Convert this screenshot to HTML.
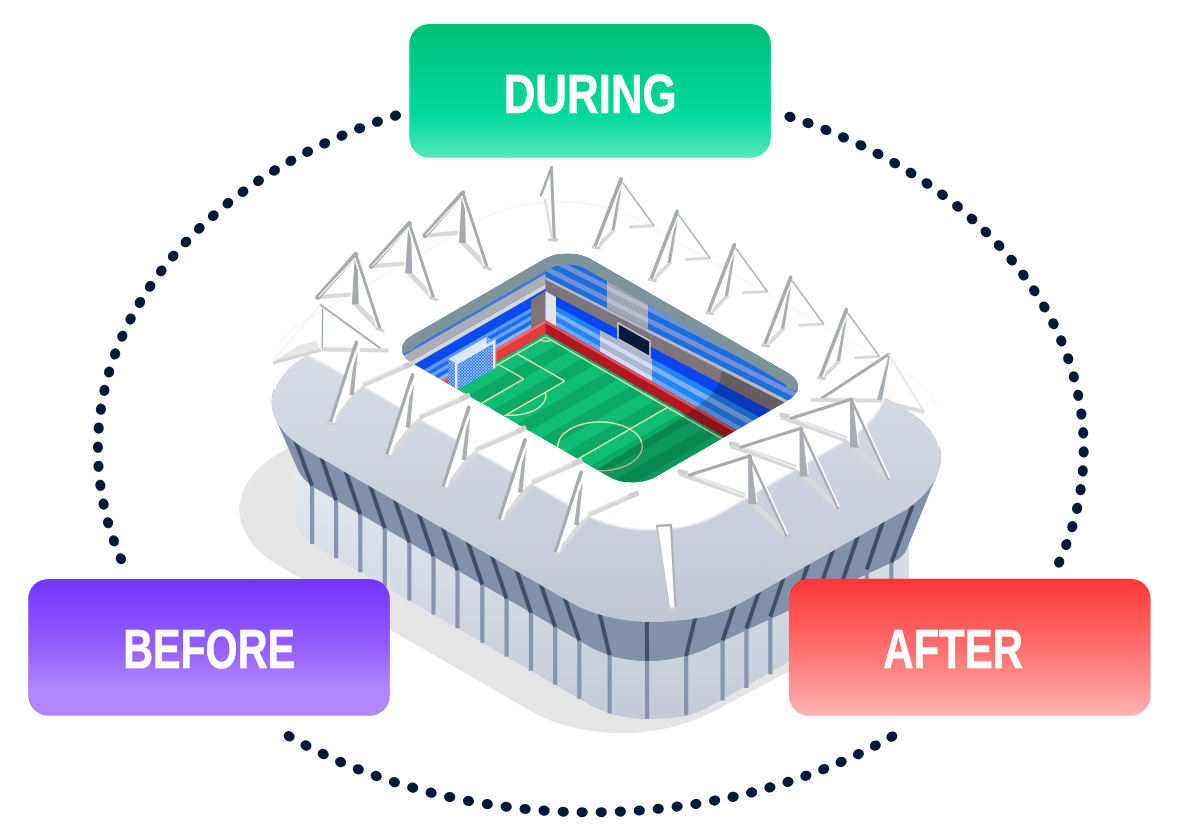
<!DOCTYPE html>
<html><head><meta charset="utf-8"><style>
html,body{margin:0;padding:0;background:#fff;width:1180px;height:840px;overflow:hidden}
svg{display:block}
text{font-family:"Liberation Sans",sans-serif;font-weight:bold;fill:#fff;stroke:#fff;stroke-width:0.7px}
</style></head><body>
<svg width="1180" height="840" viewBox="0 0 1180 840">
<defs>
<linearGradient id="gD" x1="0" y1="0" x2="0" y2="1">
<stop offset="0" stop-color="#00bf78"/><stop offset="0.68" stop-color="#00d99c"/><stop offset="1" stop-color="#55e8b8"/></linearGradient>
<linearGradient id="gB" x1="0" y1="0" x2="0" y2="1">
<stop offset="0" stop-color="#7233ff"/><stop offset="0.5" stop-color="#955fff"/><stop offset="0.8" stop-color="#b087ff"/><stop offset="1" stop-color="#b088ff"/></linearGradient>
<linearGradient id="gA" x1="0" y1="0" x2="0" y2="1">
<stop offset="0" stop-color="#ff3636"/><stop offset="0.5" stop-color="#ff6e6e"/><stop offset="1" stop-color="#ffb2b2"/></linearGradient>
</defs>
<g fill="#03193b"><ellipse cx="1083.7" cy="451.9" rx="5.6" ry="5.05" transform="rotate(90.6 1083.7 451.9)"/><ellipse cx="1082.8" cy="470.9" rx="5.6" ry="5.05" transform="rotate(94.7 1082.8 470.9)"/><ellipse cx="1080.6" cy="489.7" rx="5.6" ry="5.05" transform="rotate(98.7 1080.6 489.7)"/><ellipse cx="1077.1" cy="508.3" rx="5.6" ry="5.05" transform="rotate(102.6 1077.1 508.3)"/><ellipse cx="1072.3" cy="526.6" rx="5.6" ry="5.05" transform="rotate(106.5 1072.3 526.6)"/><ellipse cx="1066.3" cy="544.6" rx="5.6" ry="5.05" transform="rotate(110.3 1066.3 544.6)"/><ellipse cx="1059.2" cy="562.1" rx="5.6" ry="5.05" transform="rotate(114.0 1059.2 562.1)"/><ellipse cx="891.9" cy="736.6" rx="5.6" ry="5.05" transform="rotate(150.4 891.9 736.6)"/><ellipse cx="875.3" cy="745.6" rx="5.6" ry="5.05" transform="rotate(152.5 875.3 745.6)"/><ellipse cx="858.4" cy="754.1" rx="5.6" ry="5.05" transform="rotate(154.5 858.4 754.1)"/><ellipse cx="841.1" cy="761.9" rx="5.6" ry="5.05" transform="rotate(156.5 841.1 761.9)"/><ellipse cx="823.7" cy="769.1" rx="5.6" ry="5.05" transform="rotate(158.4 823.7 769.1)"/><ellipse cx="805.9" cy="775.8" rx="5.6" ry="5.05" transform="rotate(160.3 805.9 775.8)"/><ellipse cx="788.0" cy="781.9" rx="5.6" ry="5.05" transform="rotate(162.2 788.0 781.9)"/><ellipse cx="769.9" cy="787.4" rx="5.6" ry="5.05" transform="rotate(164.0 769.9 787.4)"/><ellipse cx="751.6" cy="792.4" rx="5.6" ry="5.05" transform="rotate(165.7 751.6 792.4)"/><ellipse cx="733.1" cy="796.8" rx="5.6" ry="5.05" transform="rotate(167.5 733.1 796.8)"/><ellipse cx="714.6" cy="800.6" rx="5.6" ry="5.05" transform="rotate(169.2 714.6 800.6)"/><ellipse cx="695.9" cy="803.9" rx="5.6" ry="5.05" transform="rotate(170.9 695.9 803.9)"/><ellipse cx="677.1" cy="806.6" rx="5.6" ry="5.05" transform="rotate(172.5 677.1 806.6)"/><ellipse cx="658.2" cy="808.8" rx="5.6" ry="5.05" transform="rotate(174.2 658.2 808.8)"/><ellipse cx="639.3" cy="810.5" rx="5.6" ry="5.05" transform="rotate(175.8 639.3 810.5)"/><ellipse cx="620.3" cy="811.6" rx="5.6" ry="5.05" transform="rotate(177.5 620.3 811.6)"/><ellipse cx="601.2" cy="812.2" rx="5.6" ry="5.05" transform="rotate(179.1 601.2 812.2)"/><ellipse cx="582.2" cy="812.2" rx="5.6" ry="5.05" transform="rotate(-179.3 582.2 812.2)"/><ellipse cx="563.2" cy="811.7" rx="5.6" ry="5.05" transform="rotate(-177.6 563.2 811.7)"/><ellipse cx="544.1" cy="810.6" rx="5.6" ry="5.05" transform="rotate(-176.0 544.1 810.6)"/><ellipse cx="525.1" cy="809.0" rx="5.6" ry="5.05" transform="rotate(-174.3 525.1 809.0)"/><ellipse cx="506.2" cy="806.8" rx="5.6" ry="5.05" transform="rotate(-172.7 506.2 806.8)"/><ellipse cx="487.3" cy="804.1" rx="5.6" ry="5.05" transform="rotate(-171.0 487.3 804.1)"/><ellipse cx="468.5" cy="800.9" rx="5.6" ry="5.05" transform="rotate(-169.3 468.5 800.9)"/><ellipse cx="449.7" cy="797.0" rx="5.6" ry="5.05" transform="rotate(-167.6 449.7 797.0)"/><ellipse cx="431.1" cy="792.7" rx="5.6" ry="5.05" transform="rotate(-165.8 431.1 792.7)"/><ellipse cx="412.7" cy="787.7" rx="5.6" ry="5.05" transform="rotate(-164.1 412.7 787.7)"/><ellipse cx="394.4" cy="782.1" rx="5.6" ry="5.05" transform="rotate(-162.2 394.4 782.1)"/><ellipse cx="376.2" cy="776.0" rx="5.6" ry="5.05" transform="rotate(-160.4 376.2 776.0)"/><ellipse cx="358.3" cy="769.3" rx="5.6" ry="5.05" transform="rotate(-158.5 358.3 769.3)"/><ellipse cx="340.6" cy="762.0" rx="5.6" ry="5.05" transform="rotate(-156.5 340.6 762.0)"/><ellipse cx="323.2" cy="754.0" rx="5.6" ry="5.05" transform="rotate(-154.5 323.2 754.0)"/><ellipse cx="306.0" cy="745.5" rx="5.6" ry="5.05" transform="rotate(-152.5 306.0 745.5)"/><ellipse cx="289.2" cy="736.3" rx="5.6" ry="5.05" transform="rotate(-150.3 289.2 736.3)"/><ellipse cx="120.9" cy="558.7" rx="5.6" ry="5.05" transform="rotate(-113.3 120.9 558.7)"/><ellipse cx="113.9" cy="540.9" rx="5.6" ry="5.05" transform="rotate(-109.5 113.9 540.9)"/><ellipse cx="108.1" cy="522.7" rx="5.6" ry="5.05" transform="rotate(-105.7 108.1 522.7)"/><ellipse cx="103.6" cy="504.1" rx="5.6" ry="5.05" transform="rotate(-101.8 103.6 504.1)"/><ellipse cx="100.4" cy="485.3" rx="5.6" ry="5.05" transform="rotate(-97.7 100.4 485.3)"/><ellipse cx="98.5" cy="466.3" rx="5.6" ry="5.05" transform="rotate(-93.7 98.5 466.3)"/><ellipse cx="97.9" cy="447.2" rx="5.6" ry="5.05" transform="rotate(-89.6 97.9 447.2)"/><ellipse cx="98.7" cy="428.1" rx="5.6" ry="5.05" transform="rotate(-85.5 98.7 428.1)"/><ellipse cx="100.9" cy="409.2" rx="5.6" ry="5.05" transform="rotate(-81.5 100.9 409.2)"/><ellipse cx="104.4" cy="390.4" rx="5.6" ry="5.05" transform="rotate(-77.5 104.4 390.4)"/><ellipse cx="109.1" cy="372.0" rx="5.6" ry="5.05" transform="rotate(-73.6 109.1 372.0)"/><ellipse cx="115.1" cy="353.9" rx="5.6" ry="5.05" transform="rotate(-69.8 115.1 353.9)"/><ellipse cx="122.3" cy="336.2" rx="5.6" ry="5.05" transform="rotate(-66.1 122.3 336.2)"/><ellipse cx="130.6" cy="319.0" rx="5.6" ry="5.05" transform="rotate(-62.5 130.6 319.0)"/><ellipse cx="139.9" cy="302.4" rx="5.6" ry="5.05" transform="rotate(-59.1 139.9 302.4)"/><ellipse cx="150.1" cy="286.4" rx="5.6" ry="5.05" transform="rotate(-55.8 150.1 286.4)"/><ellipse cx="161.3" cy="270.9" rx="5.6" ry="5.05" transform="rotate(-52.6 161.3 270.9)"/><ellipse cx="173.2" cy="256.1" rx="5.6" ry="5.05" transform="rotate(-49.6 173.2 256.1)"/><ellipse cx="185.9" cy="242.0" rx="5.6" ry="5.05" transform="rotate(-46.7 185.9 242.0)"/><ellipse cx="199.3" cy="228.4" rx="5.6" ry="5.05" transform="rotate(-43.9 199.3 228.4)"/><ellipse cx="213.3" cy="215.6" rx="5.6" ry="5.05" transform="rotate(-41.3 213.3 215.6)"/><ellipse cx="227.9" cy="203.3" rx="5.6" ry="5.05" transform="rotate(-38.7 227.9 203.3)"/><ellipse cx="243.0" cy="191.8" rx="5.6" ry="5.05" transform="rotate(-36.3 243.0 191.8)"/><ellipse cx="258.5" cy="180.8" rx="5.6" ry="5.05" transform="rotate(-33.9 258.5 180.8)"/><ellipse cx="274.5" cy="170.5" rx="5.6" ry="5.05" transform="rotate(-31.7 274.5 170.5)"/><ellipse cx="290.9" cy="160.9" rx="5.6" ry="5.05" transform="rotate(-29.5 290.9 160.9)"/><ellipse cx="307.6" cy="151.8" rx="5.6" ry="5.05" transform="rotate(-27.3 307.6 151.8)"/><ellipse cx="324.7" cy="143.4" rx="5.6" ry="5.05" transform="rotate(-25.3 324.7 143.4)"/><ellipse cx="342.0" cy="135.6" rx="5.6" ry="5.05" transform="rotate(-23.3 342.0 135.6)"/><ellipse cx="359.6" cy="128.3" rx="5.6" ry="5.05" transform="rotate(-21.4 359.6 128.3)"/><ellipse cx="377.4" cy="121.7" rx="5.6" ry="5.05" transform="rotate(-19.5 377.4 121.7)"/><ellipse cx="395.5" cy="115.6" rx="5.6" ry="5.05" transform="rotate(-17.6 395.5 115.6)"/><ellipse cx="790.0" cy="116.9" rx="5.6" ry="5.05" transform="rotate(18.0 790.0 116.9)"/><ellipse cx="808.0" cy="123.1" rx="5.6" ry="5.05" transform="rotate(19.9 808.0 123.1)"/><ellipse cx="825.9" cy="129.9" rx="5.6" ry="5.05" transform="rotate(21.8 825.9 129.9)"/><ellipse cx="843.5" cy="137.3" rx="5.6" ry="5.05" transform="rotate(23.8 843.5 137.3)"/><ellipse cx="860.9" cy="145.3" rx="5.6" ry="5.05" transform="rotate(25.8 860.9 145.3)"/><ellipse cx="878.0" cy="153.9" rx="5.6" ry="5.05" transform="rotate(27.8 878.0 153.9)"/><ellipse cx="894.7" cy="163.1" rx="5.6" ry="5.05" transform="rotate(30.0 894.7 163.1)"/><ellipse cx="911.0" cy="173.0" rx="5.6" ry="5.05" transform="rotate(32.2 911.0 173.0)"/><ellipse cx="927.0" cy="183.5" rx="5.6" ry="5.05" transform="rotate(34.5 927.0 183.5)"/><ellipse cx="942.5" cy="194.7" rx="5.6" ry="5.05" transform="rotate(36.9 942.5 194.7)"/><ellipse cx="957.5" cy="206.4" rx="5.6" ry="5.05" transform="rotate(39.4 957.5 206.4)"/><ellipse cx="972.0" cy="218.9" rx="5.6" ry="5.05" transform="rotate(42.0 972.0 218.9)"/><ellipse cx="985.9" cy="232.0" rx="5.6" ry="5.05" transform="rotate(44.7 985.9 232.0)"/><ellipse cx="999.1" cy="245.7" rx="5.6" ry="5.05" transform="rotate(47.5 999.1 245.7)"/><ellipse cx="1011.7" cy="260.1" rx="5.6" ry="5.05" transform="rotate(50.4 1011.7 260.1)"/><ellipse cx="1023.4" cy="275.1" rx="5.6" ry="5.05" transform="rotate(53.5 1023.4 275.1)"/><ellipse cx="1034.3" cy="290.7" rx="5.6" ry="5.05" transform="rotate(56.7 1034.3 290.7)"/><ellipse cx="1044.3" cy="306.9" rx="5.6" ry="5.05" transform="rotate(60.0 1044.3 306.9)"/><ellipse cx="1053.4" cy="323.7" rx="5.6" ry="5.05" transform="rotate(63.5 1053.4 323.7)"/><ellipse cx="1061.3" cy="340.9" rx="5.6" ry="5.05" transform="rotate(67.1 1061.3 340.9)"/><ellipse cx="1068.2" cy="358.7" rx="5.6" ry="5.05" transform="rotate(70.8 1068.2 358.7)"/><ellipse cx="1073.8" cy="376.8" rx="5.6" ry="5.05" transform="rotate(74.6 1073.8 376.8)"/><ellipse cx="1078.2" cy="395.3" rx="5.6" ry="5.05" transform="rotate(78.5 1078.2 395.3)"/><ellipse cx="1081.4" cy="414.0" rx="5.6" ry="5.05" transform="rotate(82.5 1081.4 414.0)"/><ellipse cx="1083.2" cy="432.9" rx="5.6" ry="5.05" transform="rotate(86.5 1083.2 432.9)"/></g>
<defs><linearGradient id="gCol" gradientUnits="userSpaceOnUse" x1="0" y1="460" x2="0" y2="725">
<stop offset="0" stop-color="#e6e9ef"/><stop offset="0.45" stop-color="#d6dbe4"/><stop offset="1" stop-color="#c2c9d6"/></linearGradient>
<linearGradient id="gRoof" gradientUnits="userSpaceOnUse" x1="0" y1="340" x2="0" y2="630">
<stop offset="0" stop-color="#d9dee6"/><stop offset="1" stop-color="#c0c7d4"/></linearGradient>
<filter id="blur2" x="-5%" y="-5%" width="110%" height="110%"><feGaussianBlur stdDeviation="1.2"/></filter>
<clipPath id="cRoof"><path d="M735.4,606.1 L732.1,607.7 L728.7,609.2 L725.1,610.7 L721.5,612.0 L717.7,613.3 L713.9,614.4 L709.9,615.5 L705.9,616.5 L701.8,617.4 L697.6,618.1 L693.4,618.8 L689.1,619.4 L684.7,619.9 L680.3,620.2 L675.8,620.8 L671.3,621.2 L666.8,621.6 L662.2,621.9 L657.7,622.0 L653.1,622.1 L648.5,622.0 L644.0,621.9 L639.4,621.6 L634.9,621.2 L630.4,620.8 L625.9,620.2 L621.5,619.6 L617.1,618.8 L612.8,617.9 L608.6,617.0 L604.4,615.9 L600.3,614.8 L596.2,613.5 L592.3,612.2 L588.5,610.8 L584.7,609.2 L581.1,607.7 L577.5,606.0 L574.1,604.2 L570.8,602.4 L305.8,449.4 L302.7,447.5 L299.6,445.5 L296.7,443.5 L294.0,441.4 L291.4,439.2 L288.9,437.0 L286.6,434.7 L284.4,432.4 L282.4,430.0 L280.6,427.6 L278.9,425.2 L277.5,422.7 L276.1,420.1 L275.0,417.6 L274.0,415.0 L273.2,412.4 L272.6,409.8 L272.1,407.2 L271.8,404.5 L271.8,401.9 L271.8,399.3 L272.1,396.6 L272.6,394.0 L273.2,391.4 L274.0,388.8 L275.0,386.2 L276.1,383.7 L277.5,381.1 L278.9,378.6 L280.6,376.2 L282.4,373.8 L284.4,371.4 L286.6,369.1 L288.9,366.8 L291.4,364.6 L294.0,362.4 L296.7,360.3 L299.6,358.3 L302.7,356.3 L305.8,354.4 L477.3,255.4 L480.6,253.6 L484.0,251.8 L487.5,250.1 L491.2,248.6 L494.9,247.0 L498.8,245.6 L502.7,244.3 L506.8,243.0 L510.9,241.9 L515.0,240.8 L519.3,239.9 L523.6,239.0 L528.0,238.2 L532.4,237.6 L536.9,237.0 L541.4,236.6 L545.9,236.2 L550.4,235.9 L555.0,235.8 L559.6,235.7 L564.1,235.8 L568.7,235.9 L573.2,236.2 L577.8,236.6 L582.3,237.0 L586.7,237.6 L591.2,238.2 L595.5,239.0 L599.8,239.9 L604.1,240.8 L608.3,241.9 L612.4,243.0 L616.4,244.3 L620.4,245.6 L624.2,247.0 L628.0,248.6 L631.6,250.1 L635.1,251.8 L638.5,253.6 L641.8,255.4 L906.8,408.4 L910.0,410.3 L913.0,412.3 L915.9,414.3 L918.7,416.4 L921.3,418.6 L923.8,420.8 L926.1,423.1 L928.2,425.4 L930.2,427.8 L932.1,430.2 L933.7,432.6 L935.2,435.1 L936.5,437.7 L937.7,441.6 L938.7,443.9 L939.5,446.4 L940.1,448.8 L940.6,451.4 L940.8,453.9 L940.9,456.6 L940.8,459.2 L940.6,461.9 L940.1,464.6 L939.5,467.4 L938.7,470.1 L937.7,472.9 L936.5,475.7 L935.2,478.5 L933.7,481.4 L932.1,484.2 L930.2,487.0 L928.2,489.6 L926.1,492.2 L923.8,494.8 L921.3,497.3 L918.7,499.8 L915.9,502.2 L913.0,504.6 L910.0,507.0 L906.8,509.3Z"/></clipPath><clipPath id="cHole"><path d="M655.9,476.8 L654.0,477.8 L651.9,478.7 L649.8,479.5 L647.5,480.3 L645.1,480.9 L642.7,481.4 L640.2,481.8 L637.6,482.1 L635.1,482.3 L632.5,482.3 L629.9,482.3 L627.3,482.1 L624.8,481.8 L622.3,481.4 L619.8,480.9 L617.5,480.3 L615.2,479.5 L613.0,478.7 L611.0,477.8 L609.1,476.8 L411.6,362.8 L409.9,361.6 L408.3,360.5 L406.8,359.2 L405.6,357.9 L404.5,356.6 L403.6,355.1 L402.9,353.7 L402.4,352.2 L402.1,350.7 L402.0,349.2 L402.1,347.8 L402.4,346.3 L402.9,344.8 L403.6,343.4 L404.5,341.9 L405.6,340.6 L406.8,339.3 L408.3,338.0 L409.9,336.9 L411.6,335.8 L544.1,259.2 L546.0,258.2 L548.1,257.3 L550.2,256.5 L552.5,255.7 L554.9,255.1 L557.3,254.6 L559.8,254.2 L562.4,253.9 L564.9,253.7 L567.5,253.7 L570.1,253.7 L572.7,253.9 L575.2,254.2 L577.7,254.6 L580.2,255.1 L582.5,255.7 L584.8,256.5 L587.0,257.3 L589.0,258.2 L590.9,259.2 L788.4,373.2 L790.1,374.4 L791.7,375.5 L793.2,376.8 L794.4,378.1 L795.5,379.4 L796.4,380.9 L797.1,382.3 L797.6,383.8 L797.9,385.3 L798.0,386.8 L797.9,388.2 L797.6,389.7 L797.1,391.2 L796.4,392.6 L795.5,394.1 L794.4,395.4 L793.2,396.7 L791.7,398.0 L790.1,399.1 L788.4,400.2Z"/></clipPath><pattern id="net" width="3" height="3" patternUnits="userSpaceOnUse"><rect width="3" height="3" fill="#2f7ff0"/><path d="M0,3L3,0M0,0L3,3" stroke="#bcd6fb" stroke-width="0.6"/></pattern><clipPath id="cR"><rect x="545.5" y="200" width="300" height="300"/></clipPath><clipPath id="cL"><rect x="380" y="200" width="165.5" height="300"/></clipPath></defs><path d="M711.7,712.6 L704.4,715.9 L696.5,719.0 L688.2,722.3 L679.5,725.1 L670.4,727.5 L661.0,729.5 L651.4,731.1 L641.6,732.2 L631.7,732.9 L621.7,733.1 L611.7,732.9 L601.8,732.2 L591.9,731.1 L582.3,729.5 L572.9,727.5 L563.9,725.1 L555.1,722.3 L546.8,719.0 L539.0,715.5 L531.6,711.6 L280.2,566.4 L272.8,561.8 L266.0,556.8 L259.9,551.5 L254.5,546.0 L250.0,540.2 L246.2,534.3 L243.2,528.2 L241.0,522.0 L239.8,515.7 L239.3,509.4 L239.8,503.1 L241.0,496.8 L243.2,490.6 L246.2,484.5 L250.0,478.6 L254.5,472.8 L259.9,467.3 L266.0,462.0 L272.8,457.0 L280.2,452.4 L427.8,367.2 L432.4,364.7 L437.4,362.4 L442.7,360.4 L448.2,358.6 L454.0,357.1 L460.0,355.8 L466.1,354.8 L472.3,354.1 L478.6,353.7 L484.9,353.5 L491.3,353.7 L497.6,354.1 L503.8,354.8 L509.9,355.8 L515.9,357.1 L521.6,358.6 L527.2,360.4 L532.5,362.4 L537.4,364.7 L542.1,367.2 L868.0,555.4 L872.3,558.0 L876.2,560.9 L879.7,564.0 L882.8,567.2 L885.5,570.5 L887.7,573.9 L889.4,577.5 L890.7,581.0 L891.4,584.7 L891.6,588.4 L891.4,592.0 L890.7,595.7 L889.4,599.2 L887.7,610.8 L885.5,614.2 L882.8,617.5 L879.7,620.7 L876.2,623.8 L872.3,626.7 L868.0,629.4Z" fill="#e5e5e5"/>
<path d="M294.7,457.1 L295.0,453.4 L295.7,449.8 L297.0,446.2 L298.7,442.6 L300.9,439.2 L303.5,435.9 L306.6,432.7 L310.2,429.6 L314.1,426.7 L318.4,424.1 L498.5,320.1 L503.2,317.6 L508.2,315.3 L513.5,313.3 L519.0,311.5 L524.8,309.9 L530.7,308.7 L536.8,307.7 L543.0,307.0 L549.4,306.5 L555.7,306.4 L562.0,306.5 L568.3,307.0 L574.6,307.7 L580.7,308.7 L586.6,309.9 L592.4,311.5 L597.9,313.3 L603.2,315.3 L608.2,317.6 L612.9,320.1 L885.3,498.6 L889.6,502.7 L893.5,506.9 L897.1,511.1 L900.2,515.3 L902.8,519.5 L905.0,523.6 L906.7,527.7 L908.0,531.7 L908.7,535.6 L909.0,539.4 L909.0,574.9 L908.7,578.5 L908.0,582.1 L906.7,585.7 L905.0,589.3 L902.8,592.7 L900.2,596.0 L897.1,599.2 L893.5,602.3 L889.6,605.2 L885.3,607.9 L705.2,709.0 L700.5,711.1 L695.5,713.0 L690.2,714.6 L684.7,715.9 L678.9,717.0 L673.0,717.8 L666.9,718.3 L654.4,718.9 L648.0,719.0 L641.7,718.9 L635.4,718.4 L629.1,717.7 L623.0,716.7 L617.1,715.5 L611.3,713.9 L605.8,712.1 L600.5,710.1 L595.5,707.8 L590.9,705.4 L318.4,548.0 L314.1,545.4 L310.2,542.5 L306.6,539.4 L303.5,536.2 L300.9,532.9 L298.7,529.5 L297.0,525.9 L295.7,522.4 L295.0,518.7 L294.7,515.0Z" fill="url(#gCol)"/>
<path d="M312.1,485.9L312.1,543.9M336.1,500.3L336.1,558.3M360.3,514.3L360.3,572.3M384.8,528.4L384.8,586.4M409.4,542.6L409.4,600.6M433.5,556.5L433.5,614.5M457.5,570.3L457.5,628.3M482.3,584.7L482.3,642.7M506.6,598.7L506.6,656.7M531.0,612.8L531.0,670.8M555.2,626.8L555.2,684.8M579.3,640.7L579.3,698.7M609.7,655.4L609.7,713.4M647.1,661.0L647.1,719.0M686.1,656.0L686.1,715.6M722.6,640.5L722.6,700.4M746.4,628.6L746.4,688.0M770.3,616.7L770.3,674.3M794.5,604.5L794.5,660.3M818.5,592.5L818.5,646.4M842.7,580.4L842.7,632.4M866.8,569.3L866.8,618.5M891.4,562.6L891.4,603.9" stroke="#8595b0" stroke-width="4.2" fill="none"/>
<path d="M271.8,401.9 L271.9,399.3 L272.1,396.6 L272.6,394.0 L273.2,391.4 L274.0,388.8 L275.0,386.2 L276.1,383.7 L277.4,381.1 L278.9,378.6 L280.6,376.2 L282.4,373.8 L284.4,371.4 L286.6,369.1 L288.9,366.8 L291.4,364.6 L294.0,362.4 L296.7,360.3 L299.6,358.3 L302.7,356.3 L305.8,354.4 L477.3,255.4 L480.6,253.6 L484.0,251.8 L487.5,250.2 L491.2,248.6 L494.9,247.1 L498.8,245.6 L502.7,244.3 L506.8,243.1 L510.9,241.9 L515.0,240.8 L519.3,239.9 L523.6,239.0 L528.0,238.2 L532.4,237.6 L536.9,237.0 L541.4,236.6 L545.9,236.2 L550.4,235.9 L555.0,235.8 L559.6,235.7 L564.1,235.8 L568.7,235.9 L573.2,236.2 L577.8,236.6 L582.3,237.0 L586.7,237.6 L591.1,238.2 L595.5,239.0 L599.8,239.9 L604.1,240.8 L608.3,241.9 L612.4,243.1 L616.4,244.3 L620.4,245.6 L624.2,247.1 L628.0,248.6 L631.6,250.2 L635.1,251.8 L638.5,253.6 L641.8,255.4 L906.8,408.4 L910.0,410.3 L913.0,412.3 L915.9,414.3 L918.7,416.4 L921.3,418.6 L923.8,420.8 L926.1,423.1 L928.2,425.4 L930.2,427.8 L932.1,430.2 L933.7,432.6 L935.2,435.1 L936.5,437.7 L938.7,443.9 L939.5,446.4 L940.1,448.8 L940.6,451.4 L940.8,453.9 L940.9,456.6 L940.8,459.2 L940.6,461.9 L940.1,464.6 L939.5,467.4 L938.7,470.1 L937.7,472.9 L906.7,549.5 L905.0,552.5 L902.8,555.2 L900.2,557.7 L897.1,559.9 L893.5,561.7 L705.2,649.3 L700.5,651.4 L695.5,653.3 L690.2,654.9 L684.7,656.3 L673.0,658.7 L666.9,659.7 L660.6,660.4 L654.4,660.9 L648.0,661.0 L641.7,660.9 L635.4,660.4 L629.1,659.7 L623.0,658.7 L617.1,657.5 L611.3,655.9 L605.8,654.1 L600.5,652.1 L595.5,649.8 L590.9,647.4 L318.4,490.1 L314.1,487.4 L310.2,484.5 L306.6,481.4 L303.5,478.2 L300.9,474.9 L298.7,471.5 L297.0,467.9 L275.0,417.6 L274.0,415.0 L273.2,412.4 L272.6,409.8 L272.1,407.2 L271.9,404.5Z" fill="#8291aa"/>
<path d="M312.1,485.9L290.9,428.5M336.1,500.3L317.0,444.2M360.3,514.3L341.3,458.2M384.8,528.4L365.7,472.3M409.4,542.6L390.4,486.5M433.5,556.5L414.4,500.4M457.5,570.3L438.4,514.2M482.3,584.7L463.3,528.6M506.6,598.7L487.5,542.6M531.0,612.8L512.0,556.7M555.2,626.8L536.2,570.7M579.3,640.7L560.2,584.6M609.7,655.4L596.9,602.0M647.1,661.0L646.8,609.5M686.1,656.0L698.7,602.6M722.6,640.5L741.7,584.4M746.4,628.6L765.5,572.5M770.3,616.7L789.3,560.6M794.5,604.5L813.5,548.4M818.5,592.5L837.6,536.4M842.7,580.4L861.8,524.3M866.8,569.3L885.8,513.2M891.4,562.6L912.6,505.2" stroke="#3f4f66" stroke-width="4" fill="none"/>
<path d="M735.4,606.1 L732.1,607.7 L728.7,609.2 L725.1,610.7 L721.5,612.0 L717.7,613.3 L713.9,614.4 L709.9,615.5 L705.9,616.5 L701.8,617.4 L697.6,618.1 L693.4,618.8 L689.1,619.4 L684.7,619.9 L680.3,620.2 L675.8,620.8 L671.3,621.2 L666.8,621.6 L662.2,621.9 L657.7,622.0 L653.1,622.1 L648.5,622.0 L644.0,621.9 L639.4,621.6 L634.9,621.2 L630.4,620.8 L625.9,620.2 L621.5,619.6 L617.1,618.8 L612.8,617.9 L608.6,617.0 L604.4,615.9 L600.3,614.8 L596.2,613.5 L592.3,612.2 L588.5,610.8 L584.7,609.2 L581.1,607.7 L577.5,606.0 L574.1,604.2 L570.8,602.4 L305.8,449.4 L302.7,447.5 L299.6,445.5 L296.7,443.5 L294.0,441.4 L291.4,439.2 L288.9,437.0 L286.6,434.7 L284.4,432.4 L282.4,430.0 L280.6,427.6 L278.9,425.2 L277.5,422.7 L276.1,420.1 L275.0,417.6 L274.0,415.0 L273.2,412.4 L272.6,409.8 L272.1,407.2 L271.8,404.5 L271.8,401.9 L271.8,399.3 L272.1,396.6 L272.6,394.0 L273.2,391.4 L274.0,388.8 L275.0,386.2 L276.1,383.7 L277.5,381.1 L278.9,378.6 L280.6,376.2 L282.4,373.8 L284.4,371.4 L286.6,369.1 L288.9,366.8 L291.4,364.6 L294.0,362.4 L296.7,360.3 L299.6,358.3 L302.7,356.3 L305.8,354.4 L477.3,255.4 L480.6,253.6 L484.0,251.8 L487.5,250.1 L491.2,248.6 L494.9,247.0 L498.8,245.6 L502.7,244.3 L506.8,243.0 L510.9,241.9 L515.0,240.8 L519.3,239.9 L523.6,239.0 L528.0,238.2 L532.4,237.6 L536.9,237.0 L541.4,236.6 L545.9,236.2 L550.4,235.9 L555.0,235.8 L559.6,235.7 L564.1,235.8 L568.7,235.9 L573.2,236.2 L577.8,236.6 L582.3,237.0 L586.7,237.6 L591.2,238.2 L595.5,239.0 L599.8,239.9 L604.1,240.8 L608.3,241.9 L612.4,243.0 L616.4,244.3 L620.4,245.6 L624.2,247.0 L628.0,248.6 L631.6,250.1 L635.1,251.8 L638.5,253.6 L641.8,255.4 L906.8,408.4 L910.0,410.3 L913.0,412.3 L915.9,414.3 L918.7,416.4 L921.3,418.6 L923.8,420.8 L926.1,423.1 L928.2,425.4 L930.2,427.8 L932.1,430.2 L933.7,432.6 L935.2,435.1 L936.5,437.7 L937.7,441.6 L938.7,443.9 L939.5,446.4 L940.1,448.8 L940.6,451.4 L940.8,453.9 L940.9,456.6 L940.8,459.2 L940.6,461.9 L940.1,464.6 L939.5,467.4 L938.7,470.1 L937.7,472.9 L936.5,475.7 L935.2,478.5 L933.7,481.4 L932.1,484.2 L930.2,487.0 L928.2,489.6 L926.1,492.2 L923.8,494.8 L921.3,497.3 L918.7,499.8 L915.9,502.2 L913.0,504.6 L910.0,507.0 L906.8,509.3Z" fill="url(#gRoof)"/>
<g clip-path="url(#cRoof)"><path d="M198.0,291.1 L584.0,514.0 L590.2,517.2 L596.8,520.1 L603.8,522.7 L611.2,524.9 L618.9,526.8 L626.9,528.2 L635.0,529.3 L643.3,529.9 L651.6,530.1 L659.9,529.9 L668.2,529.3 L676.3,528.2 L684.3,526.8 L692.0,524.9 L699.4,522.7 L706.4,520.1 L713.0,517.2 L719.1,514.0 L845.0,441.1 L850.6,437.6 L855.9,433.9 L860.9,430.0 L865.5,425.9 L869.8,421.5 L873.7,416.8 L877.3,412.0 L880.5,406.9 L883.4,401.6 L886.0,396.0 L886.0,100.0 L198.0,100.0Z" fill="#fff" filter="url(#blur2)"/></g>
<path d="M274.0,388.8 L275.7,384.5 L277.9,380.3 L280.6,376.2 L283.8,372.2 L287.3,368.3 L291.4,364.6 L295.8,361.0 L300.6,357.6 L305.8,354.4 L477.3,255.4 L482.9,252.4 L488.7,249.6 L494.9,247.0 L501.4,244.7 L508.1,242.7 L515.0,240.8 L522.2,239.3 L529.5,238.0 L536.9,237.0 L544.4,236.3 L552.0,235.9 L559.6,235.7 L567.2,235.9 L574.8,236.3 L582.3,237.0 L589.7,238.0 L597.0,239.3 L604.1,240.8 L611.0,242.7 L617.7,244.7 L624.2,247.0 L630.4,249.6 L636.3,252.4 L641.8,255.4 L906.8,408.4 L912.0,411.6 L916.9,415.0 L921.3,418.6 L925.3,422.3 L928.9,426.2 L932.1,430.2 L934.7,434.3 L936.9,438.5 L938.7,442.8 L939.9,447.1" fill="none" stroke="#fff" stroke-width="2.5"/>
<path d="M277.9,346.3 L280.6,342.2 L283.8,338.2 L287.3,334.3 L291.4,330.6 L295.8,327.0 L300.6,323.6 L305.8,320.4 L477.3,221.4 L482.9,218.4 L488.7,215.6 L494.9,213.0 L501.4,210.7 L508.1,208.7 L515.0,206.8 L522.2,205.3 L529.5,204.0 L536.9,203.0 L544.4,202.3 L552.0,201.9 L559.6,201.7 L567.2,201.9 L574.8,202.3 L582.3,203.0 L589.7,204.0 L597.0,205.3 L604.1,206.8 L611.0,208.7 L617.7,210.7 L624.2,213.0 L630.4,215.6 L636.3,218.4 L641.8,221.4 L906.8,374.4 L912.0,377.6 L916.9,381.0 L921.3,384.6 L925.3,388.3 L928.9,392.2 L932.1,396.2 L934.7,400.3 L936.9,404.5" fill="none" stroke="#e9e9ec" stroke-width="1" stroke-dasharray="2 1.5"/>
<g clip-path="url(#cHole)"><path d="M655.9,476.8 L654.0,477.8 L651.9,478.7 L649.8,479.5 L647.5,480.3 L645.1,480.9 L642.7,481.4 L640.2,481.8 L637.6,482.1 L635.1,482.3 L632.5,482.3 L629.9,482.3 L627.3,482.1 L624.8,481.8 L622.3,481.4 L619.8,480.9 L617.5,480.3 L615.2,479.5 L613.0,478.7 L611.0,477.8 L609.1,476.8 L411.6,362.8 L409.9,361.6 L408.3,360.5 L406.8,359.2 L405.6,357.9 L404.5,356.6 L403.6,355.1 L402.9,353.7 L402.4,352.2 L402.1,350.7 L402.0,349.2 L402.1,347.8 L402.4,346.3 L402.9,344.8 L403.6,343.4 L404.5,341.9 L405.6,340.6 L406.8,339.3 L408.3,338.0 L409.9,336.9 L411.6,335.8 L544.1,259.2 L546.0,258.2 L548.1,257.3 L550.2,256.5 L552.5,255.7 L554.9,255.1 L557.3,254.6 L559.8,254.2 L562.4,253.9 L564.9,253.7 L567.5,253.7 L570.1,253.7 L572.7,253.9 L575.2,254.2 L577.7,254.6 L580.2,255.1 L582.5,255.7 L584.8,256.5 L587.0,257.3 L589.0,258.2 L590.9,259.2 L788.4,373.2 L790.1,374.4 L791.7,375.5 L793.2,376.8 L794.4,378.1 L795.5,379.4 L796.4,380.9 L797.1,382.3 L797.6,383.8 L797.9,385.3 L798.0,386.8 L797.9,388.2 L797.6,389.7 L797.1,391.2 L796.4,392.6 L795.5,394.1 L794.4,395.4 L793.2,396.7 L791.7,398.0 L790.1,399.1 L788.4,400.2Z" fill="#1d63d8"/><g clip-path="url(#cR)"><path d="M530,311.4 L840,490.2 L840,482.9 L530,306.5Z" fill="#6aa6f8"/><path d="M530,306.5 L840,482.9 L840,475.6 L530,301.6Z" fill="#1f86f5"/><path d="M530,301.6 L840,475.6 L840,468.4 L530,296.7Z" fill="#7ab0f8"/><path d="M530,296.7 L840,468.4 L840,461.1 L530,291.8Z" fill="#1f86f5"/><path d="M530,291.8 L840,461.1 L840,447.2 L530,282.6Z" fill="#0a46f0"/><path d="M530,282.6 L840,447.2 L840,431.2 L530,271.8Z" fill="#7f7479"/><path d="M530,271.8 L840,431.2 L840,426.8 L530,268.9Z" fill="#b7b7be"/><path d="M530,268.9 L840,426.8 L840,420.6 L530,263.4Z" fill="#1b6fdc"/><path d="M530,263.4 L840,420.6 L840,414.6 L530,257.4Z" fill="#6f90dc"/><path d="M530,257.4 L840,414.6 L840,408.6 L530,251.4Z" fill="#1b6fdc"/><path d="M530,251.4 L840,408.6 L840,402.6 L530,245.4Z" fill="#6f90dc"/><path d="M530,245.4 L840,402.6 L840,396.6 L530,239.4Z" fill="#1b6fdc"/><path d="M530,239.4 L840,396.6 L840,389.6 L530,232.4Z" fill="#6f90dc"/><path d="M530,232.4 L840,389.6 L840,379.6 L530,222.4Z" fill="#1b6fdc"/><path d="M600,351.7 L652,381.8 L652,375.9 L600,346.3Z" fill="#cfdcf6"/><path d="M600,346.3 L652,375.9 L652,370.1 L600,340.9Z" fill="#aeb6c8"/><path d="M600,340.9 L652,370.1 L652,364.3 L600,335.5Z" fill="#cfdcf6"/><path d="M600,335.5 L652,364.3 L652,358.4 L600,330.1Z" fill="#aeb6c8"/><path d="M607,308.1 L648,329.0 L648,323.3 L607,302.5Z" fill="#a3a7b3"/><path d="M607,302.5 L648,323.3 L648,317.3 L607,296.5Z" fill="#babdc8"/><path d="M607,296.5 L648,317.3 L648,311.3 L607,290.5Z" fill="#a3a7b3"/><path d="M607,290.5 L648,311.3 L648,305.3 L607,284.5Z" fill="#babdc8"/><path d="M607,284.5 L648,305.3 L648,299.3 L607,278.5Z" fill="#a3a7b3"/></g><g clip-path="url(#cL)"><path d="M580.2,300.2 L199.1,520.2 L199.1,515.9 L580.2,295.9Z" fill="#8ab4f8"/><path d="M580.2,295.9 L199.1,515.9 L199.1,511.7 L580.2,291.7Z" fill="#1b6ee8"/><path d="M580.2,291.7 L199.1,511.7 L199.1,507.4 L580.2,287.4Z" fill="#6ba0f5"/><path d="M580.2,287.4 L199.1,507.4 L199.1,503.8 L580.2,283.8Z" fill="#1b6ee8"/><path d="M580.2,283.8 L199.1,503.8 L199.1,499.5 L580.2,279.5Z" fill="#5a96f5"/><path d="M580.2,279.5 L199.1,499.5 L199.1,488.7 L580.2,268.7Z" fill="#0a4af0"/><path d="M580.2,268.7 L199.1,488.7 L199.1,483.7 L580.2,263.7Z" fill="#d5d5da"/><path d="M580.2,263.7 L199.1,483.7 L199.1,473.7 L580.2,253.7Z" fill="#adadb5"/><path d="M580.2,253.7 L199.1,473.7 L199.1,468.2 L580.2,248.2Z" fill="#3a7ae0"/><path d="M580.2,248.2 L199.1,468.2 L199.1,450.2 L580.2,230.2Z" fill="#7d949a"/></g><path d="M531,300 L545.5,291 L545.5,321 L531,329Z" fill="#7e7478"/><path d="M545.5,291 L556,297 L556,327 L545.5,321Z" fill="#e4e4e8"/><path d="M545.5,333.5 L891.9,533.5 L545.5,733.5 L199.1,533.5Z" fill="#0fbe74"/><path d="M560.8,342.4 L573.0,349.4 L226.6,549.4 L214.4,542.4ZM585.2,356.5 L597.4,363.5 L251.0,563.5 L238.8,556.5ZM609.6,370.5 L621.8,377.6 L275.4,577.6 L263.2,570.5ZM633.9,384.6 L646.1,391.6 L299.7,591.6 L287.5,584.6ZM658.3,398.7 L670.5,405.7 L324.1,605.7 L311.9,598.7ZM682.7,412.7 L694.9,419.8 L348.5,619.8 L336.3,612.7ZM707.0,426.8 L719.2,433.8 L372.8,633.8 L360.6,626.8ZM731.4,440.9 L743.6,447.9 L397.2,647.9 L385.0,640.9ZM755.8,454.9 L768.0,462.0 L421.6,662.0 L409.4,654.9ZM780.2,469.0 L792.3,476.0 L445.9,676.0 L433.8,669.0ZM804.5,483.1 L816.7,490.1 L470.3,690.1 L458.1,683.1ZM828.9,497.2 L841.1,504.2 L494.7,704.2 L482.5,697.2ZM853.3,511.2 L865.4,518.3 L519.0,718.3 L506.9,711.2ZM877.6,525.3 L889.8,532.3 L543.4,732.3 L531.2,725.3Z" fill="#0ba964"/><path d="M545.7,337.0L927.3,557.4M545.7,337.0L305.0,476.0M517.0,353.6L564.8,381.1M564.8,381.1L352.7,503.6M498.5,364.3L523.8,378.9M523.8,378.9L330.2,490.6M667.5,407.4L426.8,546.4M629.9,463.6 L626.6,465.4 L623.0,466.9 L619.2,468.1 L615.1,469.2 L610.9,470.0 L606.6,470.5 L602.2,470.8 L597.8,470.8 L593.4,470.5 L589.1,470.0 L584.9,469.2 L580.8,468.1 L577.0,466.9 L573.4,465.4 L570.1,463.6 L567.2,461.8 L564.6,459.7 L562.4,457.5 L560.6,455.1 L559.2,452.7 L558.3,450.2 L557.8,447.7 L557.8,445.1 L558.3,442.6 L559.2,440.1 L560.6,437.7 L562.4,435.3 L564.6,433.1 L567.2,431.0 L570.1,429.1 L573.4,427.4 L577.0,425.9 L580.8,424.7 L584.9,423.6 L589.1,422.8 L593.4,422.3 L597.8,422.0 L602.2,422.0 L606.6,422.3 L610.9,422.8 L615.1,423.6 L619.2,424.7 L623.0,425.9 L626.6,427.4 L629.9,429.1 L632.8,431.0 L635.4,433.1 L637.6,435.3 L639.4,437.7 L640.8,440.1 L641.7,442.6 L642.2,445.1 L642.2,447.7 L641.7,450.2 L640.8,452.7 L639.4,455.1 L637.6,457.5 L635.4,459.7 L632.8,461.8 L629.9,463.6M545.5,392.3 L545.9,394.4 L545.9,396.4 L545.5,398.5 L544.8,400.5 L543.7,402.5 L542.2,404.4 L540.4,406.2 L538.3,407.9 L535.9,409.4 L533.2,410.8 L530.3,412.0 L527.2,413.0 L524.0,413.9 L520.5,414.5 L517.0,415.0 L513.5,415.2 L509.9,415.2 L506.3,415.0M550.9,340.0 L550.3,340.3 L549.7,340.6 L549.0,340.8 L548.3,341.0 L547.6,341.1 L546.9,341.2 L546.1,341.3 L545.3,341.3 L544.6,341.2 L543.8,341.1 L543.1,341.0 L542.4,340.8 L541.7,340.6 L541.1,340.3 L540.5,340.0" stroke="#e6e3ad" stroke-width="1.4" fill="none"/><path d="M545.5,333.5 L891.9,533.5 L891.9,520.2 L545.5,320.2Z" fill="#b3171f"/><path d="M545.5,323.2 L891.9,523.2 L891.9,520.2 L545.5,320.2Z" fill="#e0545c"/><path d="M545.5,333.5 L199.1,533.5 L199.1,520.2 L545.5,320.2Z" fill="#e63b3b"/><path d="M545.5,323.2 L199.1,523.2 L199.1,520.2 L545.5,320.2Z" fill="#ee6a70"/><path d="M486.5,337.1 L448.4,359.1 L448.4,386.1 L456.2,390.6 L494.3,368.6 L486.5,364.1Z" fill="url(#net)"/><path d="M486.5,337.1 L448.4,359.1 L456.2,363.6 L494.3,341.6Z" fill="#dbe8fb"/><path d="M486.5,337.1 L494.3,341.6 L494.3,368.6 L486.5,364.1Z" fill="url(#net)" opacity="0.85"/><path d="M494.3,368.6L494.3,341.6L456.2,363.6L456.2,390.6" stroke="#e4e8ec" stroke-width="2.6" fill="none"/><path d="M495.8,368.6L495.8,341.6M457.7,390.6L457.7,364.6" stroke="#a9b4c0" stroke-width="1" fill="none"/><path d="M598.6,468.6 L684.4,416.4 L690,412 L700,404 L712,394 L719,384 L722,370.5 L840,431.2 L840,520 L590,520Z" fill="#000" opacity="0.2"/><path d="M402.6,353.0 L402.2,351.7 L402.0,350.5 L402.0,349.2 L402.0,348.0 L402.2,346.8 L402.6,345.5 L403.1,344.3 L403.7,343.1 L404.5,341.9 L405.4,340.8 L406.4,339.7 L407.5,338.6 L408.8,337.6 L410.2,336.7 L411.6,335.8 L544.1,259.2 L545.7,258.4 L547.4,257.6 L549.2,256.9 L551.0,256.2 L552.9,255.6 L554.9,255.1 L556.9,254.7 L559.0,254.3 L561.1,254.0 L563.2,253.8 L565.4,253.7 L567.5,253.7 L569.7,253.7 L571.8,253.8 L574.0,254.0 L576.1,254.3 L578.2,254.7 L580.2,255.1 L582.2,255.6 L584.1,256.2 L585.9,256.9 L587.7,257.6 L589.3,258.4 L590.9,259.2 L788.4,373.2 L789.8,374.2 L791.2,375.1 L792.5,376.1 L793.6,377.2 L794.6,378.3 L795.5,379.4 L796.3,380.6 L796.9,381.8 L797.4,383.0 L797.8,384.3 L798.0,385.5 L798.0,386.8 L798.0,388.0 L797.8,389.2 L797.4,390.5 L796.9,391.7" fill="none" stroke="#7d949a" stroke-width="22"/><path d="M618,323 L650,341 L650,357 L618,339Z" fill="#0b1a3a" stroke="#c9c9cf" stroke-width="1.6"/></g>
<path d="M541.0,195.0L551.4,167.6" stroke="#a6acaf" stroke-width="2.5" stroke-linecap="round" fill="none"/><path d="M551.4,167.6L554.3,240.0" stroke="#a6acaf" stroke-width="3" stroke-linecap="round" fill="none"/><path d="M545.0,200.0L552.0,238.0" stroke="#e0e0e0" stroke-width="2.5" stroke-linecap="round" fill="none"/><path d="M549.0,240.0L557.0,240.0" stroke="#d0d0d0" stroke-width="3" stroke-linecap="round" fill="none"/><path d="M422.9,235.7L457.9,232.9" stroke="#d9d9d9" stroke-width="4.2" stroke-linecap="butt" fill="none"/><path d="M459.9,242.9 L466.9,242.9 L488.1,264.1 L484.1,268.1Z" fill="#d9d9d9"/><path d="M461.9,192.9 L464.4,192.9 L465.9,242.9 L458.9,242.9Z" fill="#a3a9ac"/><path d="M424.9,235.7L462.9,192.9" stroke="#a6acaf" stroke-width="5" stroke-linecap="round" fill="none"/><path d="M426.4,234.7L462.9,195.9" stroke="#f4f4f4" stroke-width="1.3" stroke-linecap="round" fill="none"/><path d="M462.9,192.9L487.1,267.1" stroke="#a6acaf" stroke-width="3" stroke-linecap="round" fill="none"/><path d="M461.9,196.9L484.1,266.1" stroke="#ffffff" stroke-width="1.4" stroke-linecap="round" fill="none"/><path d="M484.1,267.1L490.1,269.1" stroke="#cfcfcf" stroke-width="3" stroke-linecap="round" fill="none"/><path d="M369.3,266.4L404.3,263.6" stroke="#d9d9d9" stroke-width="4.2" stroke-linecap="butt" fill="none"/><path d="M406.3,273.6 L413.3,273.6 L434.5,294.8 L430.5,298.8Z" fill="#d9d9d9"/><path d="M408.3,223.6 L410.8,223.6 L412.3,273.6 L405.3,273.6Z" fill="#a3a9ac"/><path d="M371.3,266.4L409.3,223.6" stroke="#a6acaf" stroke-width="5" stroke-linecap="round" fill="none"/><path d="M372.8,265.4L409.3,226.6" stroke="#f4f4f4" stroke-width="1.3" stroke-linecap="round" fill="none"/><path d="M409.3,223.6L433.5,297.8" stroke="#a6acaf" stroke-width="3" stroke-linecap="round" fill="none"/><path d="M408.3,227.6L430.5,296.8" stroke="#ffffff" stroke-width="1.4" stroke-linecap="round" fill="none"/><path d="M430.5,297.8L436.5,299.8" stroke="#cfcfcf" stroke-width="3" stroke-linecap="round" fill="none"/><path d="M315.8,297.3L350.8,294.5" stroke="#d9d9d9" stroke-width="4.2" stroke-linecap="butt" fill="none"/><path d="M352.8,304.5 L359.8,304.5 L381.0,325.7 L377.0,329.7Z" fill="#d9d9d9"/><path d="M354.8,254.5 L357.3,254.5 L358.8,304.5 L351.8,304.5Z" fill="#a3a9ac"/><path d="M317.8,297.3L355.8,254.5" stroke="#a6acaf" stroke-width="5" stroke-linecap="round" fill="none"/><path d="M319.3,296.3L355.8,257.5" stroke="#f4f4f4" stroke-width="1.3" stroke-linecap="round" fill="none"/><path d="M355.8,254.5L380.0,328.7" stroke="#a6acaf" stroke-width="3" stroke-linecap="round" fill="none"/><path d="M354.8,258.5L377.0,327.7" stroke="#ffffff" stroke-width="1.4" stroke-linecap="round" fill="none"/><path d="M377.0,328.7L383.0,330.7" stroke="#cfcfcf" stroke-width="3" stroke-linecap="round" fill="none"/><path d="M597.2,244.0 L611.3,230.5 L616.3,230.5 L600.2,247.0Z" fill="#d9d9d9"/><path d="M629.0,227.0L654.0,225.7" stroke="#d9d9d9" stroke-width="3" stroke-linecap="butt" fill="none"/><path d="M623.0,183.0L654.0,225.7" stroke="#b0b6b9" stroke-width="1.6" stroke-linecap="round" fill="none"/><path d="M621.0,179.0 L622.5,181.0 L614.8,230.5 L611.3,230.5Z" fill="#a9afb2"/><path d="M595.2,246.0L621.0,179.0" stroke="#a6acaf" stroke-width="3.6" stroke-linecap="round" fill="none"/><path d="M598.2,245.0L622.0,184.0" stroke="#ffffff" stroke-width="1.3" stroke-linecap="round" fill="none"/><path d="M593.2,247.0L599.2,248.0" stroke="#cfcfcf" stroke-width="3" stroke-linecap="round" fill="none"/><path d="M653.3,276.4 L667.4,262.9 L672.4,262.9 L656.3,279.4Z" fill="#d9d9d9"/><path d="M685.1,259.4L710.1,258.1" stroke="#d9d9d9" stroke-width="3" stroke-linecap="butt" fill="none"/><path d="M679.1,215.4L710.1,258.1" stroke="#b0b6b9" stroke-width="1.6" stroke-linecap="round" fill="none"/><path d="M677.1,211.4 L678.6,213.4 L670.9,262.9 L667.4,262.9Z" fill="#a9afb2"/><path d="M651.3,278.4L677.1,211.4" stroke="#a6acaf" stroke-width="3.6" stroke-linecap="round" fill="none"/><path d="M654.3,277.4L678.1,216.4" stroke="#ffffff" stroke-width="1.3" stroke-linecap="round" fill="none"/><path d="M649.3,279.4L655.3,280.4" stroke="#cfcfcf" stroke-width="3" stroke-linecap="round" fill="none"/><path d="M710.5,309.8 L724.6,296.3 L729.6,296.3 L713.5,312.8Z" fill="#d9d9d9"/><path d="M742.3,292.8L767.3,291.5" stroke="#d9d9d9" stroke-width="3" stroke-linecap="butt" fill="none"/><path d="M736.3,248.8L767.3,291.5" stroke="#b0b6b9" stroke-width="1.6" stroke-linecap="round" fill="none"/><path d="M734.3,244.8 L735.8,246.8 L728.1,296.3 L724.6,296.3Z" fill="#a9afb2"/><path d="M708.5,311.8L734.3,244.8" stroke="#a6acaf" stroke-width="3.6" stroke-linecap="round" fill="none"/><path d="M711.5,310.8L735.3,249.8" stroke="#ffffff" stroke-width="1.3" stroke-linecap="round" fill="none"/><path d="M706.5,312.8L712.5,313.8" stroke="#cfcfcf" stroke-width="3" stroke-linecap="round" fill="none"/><path d="M766.8,342.3 L780.9,328.8 L785.9,328.8 L769.8,345.3Z" fill="#d9d9d9"/><path d="M798.6,325.3L823.6,324.0" stroke="#d9d9d9" stroke-width="3" stroke-linecap="butt" fill="none"/><path d="M792.6,281.3L823.6,324.0" stroke="#b0b6b9" stroke-width="1.6" stroke-linecap="round" fill="none"/><path d="M790.6,277.3 L792.1,279.3 L784.4,328.8 L780.9,328.8Z" fill="#a9afb2"/><path d="M764.8,344.3L790.6,277.3" stroke="#a6acaf" stroke-width="3.6" stroke-linecap="round" fill="none"/><path d="M767.8,343.3L791.6,282.3" stroke="#ffffff" stroke-width="1.3" stroke-linecap="round" fill="none"/><path d="M762.8,345.3L768.8,346.3" stroke="#cfcfcf" stroke-width="3" stroke-linecap="round" fill="none"/><path d="M822.5,374.7 L836.6,361.2 L841.6,361.2 L825.5,377.7Z" fill="#d9d9d9"/><path d="M854.3,357.7L879.3,356.4" stroke="#d9d9d9" stroke-width="3" stroke-linecap="butt" fill="none"/><path d="M848.3,313.7L879.3,356.4" stroke="#b0b6b9" stroke-width="1.6" stroke-linecap="round" fill="none"/><path d="M846.3,309.7 L847.8,311.7 L840.1,361.2 L836.6,361.2Z" fill="#a9afb2"/><path d="M820.5,376.7L846.3,309.7" stroke="#a6acaf" stroke-width="3.6" stroke-linecap="round" fill="none"/><path d="M823.5,375.7L847.3,314.7" stroke="#ffffff" stroke-width="1.3" stroke-linecap="round" fill="none"/><path d="M818.5,377.7L824.5,378.7" stroke="#cfcfcf" stroke-width="3" stroke-linecap="round" fill="none"/><path d="M273.0,362.0 L300.0,345.0 L316.0,341.0 L320.5,350.5 L273.0,364.5Z" fill="#e6e6e6"/><path d="M273.0,363.0L321.0,350.0" stroke="#d4d4d4" stroke-width="3" stroke-linecap="butt" fill="none"/><path d="M320.5,304.8L379.8,348.1" stroke="#a6acaf" stroke-width="1.8" stroke-linecap="round" fill="none"/><path d="M321.7,349.3L388.7,350.5" stroke="#d9d9d9" stroke-width="4" stroke-linecap="butt" fill="none"/><path d="M322.6,309.0L322.3,348.0" stroke="#a5abae" stroke-width="1.4" stroke-linecap="round" fill="none"/><path d="M320.5,304.8L273.0,361.0" stroke="#eeeeee" stroke-width="1" stroke-linecap="round" fill="none"/><path d="M888.8,354.3L821.0,398.8" stroke="#a6acaf" stroke-width="3" stroke-linecap="round" fill="none"/><path d="M810.9,399.8L881.7,400.8" stroke="#d9d9d9" stroke-width="4" stroke-linecap="butt" fill="none"/><path d="M888.8,354.3 L890.0,356.0 L882.0,400.0 L877.0,400.0Z" fill="#a9afb2"/><path d="M888.8,354.3L924.2,412.0" stroke="#e4e4e4" stroke-width="1.5" stroke-linecap="round" fill="none"/><path d="M884.0,402.0L924.0,412.0" stroke="#dadada" stroke-width="4" stroke-linecap="butt" fill="none"/>
<path d="M781.4,414.3 L851.4,399.3 L854.6,447.5 L846.4,439.3Z" fill="#ffffff"/><path d="M781.4,416.3L846.4,439.3" stroke="#d9d9d9" stroke-width="6" stroke-linecap="butt" fill="none"/><path d="M781.4,413.8L846.4,438.8" stroke="#eeeeee" stroke-width="1.5" stroke-linecap="butt" fill="none"/><path d="M791.4,418.3L851.4,399.3" stroke="#a6acaf" stroke-width="3" stroke-linecap="round" fill="none"/><path d="M851.6,447.5 L859.6,447.5 L889.4,475.6 L885.4,479.6Z" fill="#d9d9d9"/><path d="M849.9,399.3 L853.4,399.3 L859.1,447.5 L850.1,447.5Z" fill="#a7adb0"/><path d="M853.9,403.3L858.6,445.5" stroke="#ffffff" stroke-width="1.2" stroke-linecap="round" fill="none"/><path d="M851.4,399.3L888.4,478.6" stroke="#a6acaf" stroke-width="3" stroke-linecap="round" fill="none"/><path d="M854.4,401.3L889.4,477.6" stroke="#ffffff" stroke-width="1.6" stroke-linecap="round" fill="none"/><path d="M779.4,414.3L789.4,416.3" stroke="#cfcfcf" stroke-width="4" stroke-linecap="butt" fill="none"/><path d="M731.0,443.2 L801.0,428.2 L804.2,476.4 L796.0,468.2Z" fill="#ffffff"/><path d="M731.0,445.2L796.0,468.2" stroke="#d9d9d9" stroke-width="6" stroke-linecap="butt" fill="none"/><path d="M731.0,442.7L796.0,467.7" stroke="#eeeeee" stroke-width="1.5" stroke-linecap="butt" fill="none"/><path d="M741.0,447.2L801.0,428.2" stroke="#a6acaf" stroke-width="3" stroke-linecap="round" fill="none"/><path d="M801.2,476.4 L809.2,476.4 L839.0,504.5 L835.0,508.5Z" fill="#d9d9d9"/><path d="M799.5,428.2 L803.0,428.2 L808.7,476.4 L799.7,476.4Z" fill="#a7adb0"/><path d="M803.5,432.2L808.2,474.4" stroke="#ffffff" stroke-width="1.2" stroke-linecap="round" fill="none"/><path d="M801.0,428.2L838.0,507.5" stroke="#a6acaf" stroke-width="3" stroke-linecap="round" fill="none"/><path d="M804.0,430.2L839.0,506.5" stroke="#ffffff" stroke-width="1.6" stroke-linecap="round" fill="none"/><path d="M729.0,443.2L739.0,445.2" stroke="#cfcfcf" stroke-width="4" stroke-linecap="butt" fill="none"/><path d="M679.6,471.0 L749.6,456.0 L752.8,504.2 L744.6,496.0Z" fill="#ffffff"/><path d="M679.6,473.0L744.6,496.0" stroke="#d9d9d9" stroke-width="6" stroke-linecap="butt" fill="none"/><path d="M679.6,470.5L744.6,495.5" stroke="#eeeeee" stroke-width="1.5" stroke-linecap="butt" fill="none"/><path d="M689.6,475.0L749.6,456.0" stroke="#a6acaf" stroke-width="3" stroke-linecap="round" fill="none"/><path d="M749.8,504.2 L757.8,504.2 L787.6,532.3 L783.6,536.3Z" fill="#d9d9d9"/><path d="M748.1,456.0 L751.6,456.0 L757.3,504.2 L748.3,504.2Z" fill="#a7adb0"/><path d="M752.1,460.0L756.8,502.2" stroke="#ffffff" stroke-width="1.2" stroke-linecap="round" fill="none"/><path d="M749.6,456.0L786.6,535.3" stroke="#a6acaf" stroke-width="3" stroke-linecap="round" fill="none"/><path d="M752.6,458.0L787.6,534.3" stroke="#ffffff" stroke-width="1.6" stroke-linecap="round" fill="none"/><path d="M677.6,471.0L687.6,473.0" stroke="#cfcfcf" stroke-width="4" stroke-linecap="butt" fill="none"/><path d="M330.5,422.1 L356.2,342.1 L359.2,344.1 L363.3,387.0 L334.5,424.1Z" fill="#ffffff"/><path d="M332.5,421.1 L351.9,395.0 L363.3,385.0 L364.3,388.0 L335.5,423.1Z" fill="#d9d9d9"/><path d="M363.3,385.0L411.9,363.6" stroke="#d9d9d9" stroke-width="5" stroke-linecap="butt" fill="none"/><path d="M363.3,382.5L411.9,361.1" stroke="#ececec" stroke-width="1.5" stroke-linecap="butt" fill="none"/><path d="M403.9,366.6L413.9,362.6" stroke="#cfcfcf" stroke-width="5" stroke-linecap="butt" fill="none"/><path d="M356.2,342.1 L358.7,342.1 L353.9,395.0 L349.4,395.0Z" fill="#a9afb2"/><path d="M330.5,422.1L356.2,342.1" stroke="#a6acaf" stroke-width="3.2" stroke-linecap="round" fill="none"/><path d="M333.7,422.1L359.4,343.1" stroke="#ffffff" stroke-width="2.2" stroke-linecap="round" fill="none"/><path d="M328.5,423.1L334.5,424.1" stroke="#cfcfcf" stroke-width="3" stroke-linecap="round" fill="none"/><path d="M386.7,454.6 L412.4,374.6 L415.4,376.6 L419.5,419.5 L390.7,456.6Z" fill="#ffffff"/><path d="M388.7,453.6 L408.1,427.5 L419.5,417.5 L420.5,420.5 L391.7,455.6Z" fill="#d9d9d9"/><path d="M419.5,417.5L468.1,396.1" stroke="#d9d9d9" stroke-width="5" stroke-linecap="butt" fill="none"/><path d="M419.5,415.0L468.1,393.6" stroke="#ececec" stroke-width="1.5" stroke-linecap="butt" fill="none"/><path d="M460.1,399.1L470.1,395.1" stroke="#cfcfcf" stroke-width="5" stroke-linecap="butt" fill="none"/><path d="M412.4,374.6 L414.9,374.6 L410.1,427.5 L405.6,427.5Z" fill="#a9afb2"/><path d="M386.7,454.6L412.4,374.6" stroke="#a6acaf" stroke-width="3.2" stroke-linecap="round" fill="none"/><path d="M389.9,454.6L415.6,375.6" stroke="#ffffff" stroke-width="2.2" stroke-linecap="round" fill="none"/><path d="M384.7,455.6L390.7,456.6" stroke="#cfcfcf" stroke-width="3" stroke-linecap="round" fill="none"/><path d="M442.9,487.1 L468.6,407.1 L471.6,409.1 L475.7,452.0 L446.9,489.1Z" fill="#ffffff"/><path d="M444.9,486.1 L464.3,460.0 L475.7,450.0 L476.7,453.0 L447.9,488.1Z" fill="#d9d9d9"/><path d="M475.7,450.0L524.3,428.6" stroke="#d9d9d9" stroke-width="5" stroke-linecap="butt" fill="none"/><path d="M475.7,447.5L524.3,426.1" stroke="#ececec" stroke-width="1.5" stroke-linecap="butt" fill="none"/><path d="M516.3,431.6L526.3,427.6" stroke="#cfcfcf" stroke-width="5" stroke-linecap="butt" fill="none"/><path d="M468.6,407.1 L471.1,407.1 L466.3,460.0 L461.8,460.0Z" fill="#a9afb2"/><path d="M442.9,487.1L468.6,407.1" stroke="#a6acaf" stroke-width="3.2" stroke-linecap="round" fill="none"/><path d="M446.1,487.1L471.8,408.1" stroke="#ffffff" stroke-width="2.2" stroke-linecap="round" fill="none"/><path d="M440.9,488.1L446.9,489.1" stroke="#cfcfcf" stroke-width="3" stroke-linecap="round" fill="none"/><path d="M499.1,519.6 L524.8,439.6 L527.8,441.6 L531.9,484.5 L503.1,521.6Z" fill="#ffffff"/><path d="M501.1,518.6 L520.5,492.5 L531.9,482.5 L532.9,485.5 L504.1,520.6Z" fill="#d9d9d9"/><path d="M531.9,482.5L580.5,461.1" stroke="#d9d9d9" stroke-width="5" stroke-linecap="butt" fill="none"/><path d="M531.9,480.0L580.5,458.6" stroke="#ececec" stroke-width="1.5" stroke-linecap="butt" fill="none"/><path d="M572.5,464.1L582.5,460.1" stroke="#cfcfcf" stroke-width="5" stroke-linecap="butt" fill="none"/><path d="M524.8,439.6 L527.3,439.6 L522.5,492.5 L518.0,492.5Z" fill="#a9afb2"/><path d="M499.1,519.6L524.8,439.6" stroke="#a6acaf" stroke-width="3.2" stroke-linecap="round" fill="none"/><path d="M502.3,519.6L528.0,440.6" stroke="#ffffff" stroke-width="2.2" stroke-linecap="round" fill="none"/><path d="M497.1,520.6L503.1,521.6" stroke="#cfcfcf" stroke-width="3" stroke-linecap="round" fill="none"/><path d="M555.3,552.1 L581.0,472.1 L584.0,474.1 L588.1,517.0 L559.3,554.1Z" fill="#ffffff"/><path d="M557.3,551.1 L576.7,525.0 L588.1,515.0 L589.1,518.0 L560.3,553.1Z" fill="#d9d9d9"/><path d="M588.1,515.0L636.7,493.6" stroke="#d9d9d9" stroke-width="5" stroke-linecap="butt" fill="none"/><path d="M588.1,512.5L636.7,491.1" stroke="#ececec" stroke-width="1.5" stroke-linecap="butt" fill="none"/><path d="M628.7,496.6L638.7,492.6" stroke="#cfcfcf" stroke-width="5" stroke-linecap="butt" fill="none"/><path d="M581.0,472.1 L583.5,472.1 L578.7,525.0 L574.2,525.0Z" fill="#a9afb2"/><path d="M555.3,552.1L581.0,472.1" stroke="#a6acaf" stroke-width="3.2" stroke-linecap="round" fill="none"/><path d="M558.5,552.1L584.2,473.1" stroke="#ffffff" stroke-width="2.2" stroke-linecap="round" fill="none"/><path d="M553.3,553.1L559.3,554.1" stroke="#cfcfcf" stroke-width="3" stroke-linecap="round" fill="none"/><path d="M656.7,526.0 L671.0,524.8 L676.0,609.3 L669.0,609.3Z" fill="#ffffff"/><path d="M657.0,527.0L669.0,608.0" stroke="#c4c9cc" stroke-width="2.2" stroke-linecap="round" fill="none"/><path d="M671.0,525.0L675.5,608.0" stroke="#a9afb2" stroke-width="2" stroke-linecap="round" fill="none"/><path d="M657.0,526.0L671.0,525.0" stroke="#a9afb2" stroke-width="2.5" stroke-linecap="round" fill="none"/><path d="M667.0,609.0L677.0,609.0" stroke="#d0d0d0" stroke-width="3" stroke-linecap="butt" fill="none"/>
<rect x="409.3" y="23.9" width="361.6" height="133.8" rx="20" fill="url(#gD)"/>
<rect x="28.2" y="578.9" width="361.7" height="136.8" rx="20" fill="url(#gB)"/>
<rect x="788.9" y="578.7" width="361.7" height="137" rx="20" fill="url(#gA)"/>
<text font-size="56" transform="translate(503.67 112.8) scale(0.7835 1)">DURING</text>
<text font-size="56" transform="translate(123.14 668.3) scale(0.7365 1)">BEFORE</text>
<text font-size="56" transform="translate(883.16 668.4) scale(0.749 1)">AFTER</text>
</svg>
</body></html>
